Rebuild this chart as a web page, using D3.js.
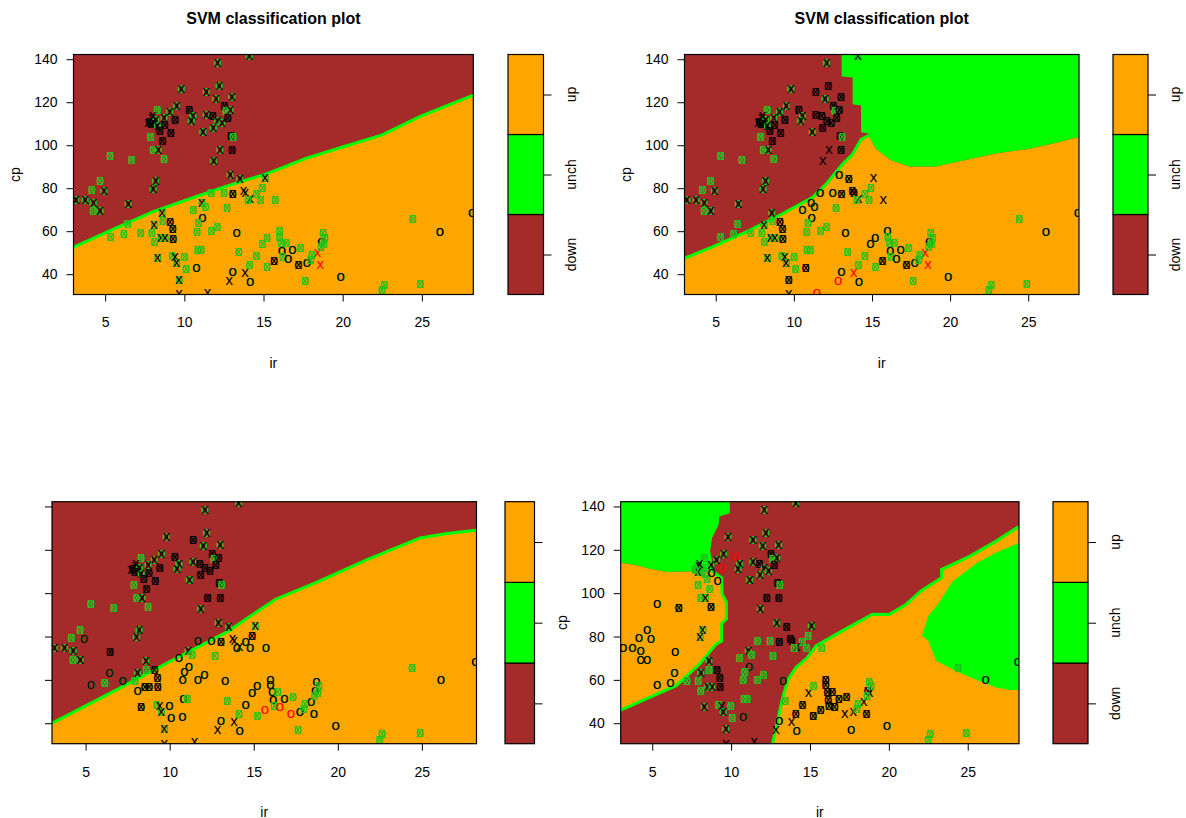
<!DOCTYPE html>
<html lang="en">
<head>
<meta charset="UTF-8">
<title>SVM classification plot</title>
<script src="https://d3js.org/d3.v7.min.js"></script>
<style>
    body, html { margin: 0; padding: 0; background: #fff; overflow: hidden; }
    svg text { font-family: "Liberation Sans", Arial, sans-serif; fill: #000; }
</style>
</head>
<body>
<div id="chart"></div>
<script>
// classes of the response and axis ticks
var classes = ["down", "unch", "up"];
var irTicks = [5, 10, 15, 20, 25];
var cpTicks = [40, 60, 80, 100, 120, 140];
var irRange = [3.0, 28.25];
var cpRange = [30.55, 142.2];

// observations (ir, cp) - same data in every panel
var irVals = [
    9.81, 11.39, 9.52, 9.08, 8.30, 10.30, 10.55, 10.44, 11.39, 7.80,
    7.95, 8.10, 8.20, 7.90, 8.00, 8.30, 7.70, 8.72, 9.41, 8.45,
    8.76, 9.14, 8.61, 7.88, 11.18, 8.05, 8.36, 8.72, 5.32, 6.68,
    8.19, 8.03, 4.68, 4.16, 4.92, 3.15, 3.74, 4.26, 4.26, 4.68,
    6.45, 8.59, 6.41, 5.32, 6.15, 7.21, 7.92, 8.09, 8.61, 9.10,
    9.27, 8.51, 8.78, 8.09, 9.29, 8.30, 9.21, 9.41, 9.50, 9.98,
    10.09, 10.76, 9.67, 10.82, 11.03, 10.55, 11.14, 10.88, 10.78, 11.10,
    11.31, 9.67, 14.10, 12.10, 12.20, 12.00, 13.01, 12.52, 12.63, 12.90,
    11.79, 12.10, 12.38, 12.73, 11.83, 12.94, 13.09, 12.25, 13.01, 11.85,
    12.90, 13.51, 15.09, 11.68, 12.48, 13.05, 13.74, 13.84, 14.90, 14.52,
    14.16, 14.00, 14.79, 15.72, 12.67, 12.06, 11.68, 13.30, 13.41, 14.90,
    15.20, 15.99, 15.99, 16.10, 16.41, 16.16, 16.20, 16.56, 16.83, 17.31,
    15.67, 14.52, 14.10, 15.20, 13.05, 13.83, 14.16, 12.84, 17.21, 17.74,
    17.95, 18.41, 18.58, 18.73, 18.66, 18.79, 18.03, 17.61, 11.47, 24.40,
    26.14, 28.18, 19.88, 22.61, 22.46, 24.88, 18.85, 18.60
];
var cpVals = [
    126.0, 124.7, 118.2, 115.4, 116.2, 116.6, 113.5, 111.2, 114.3, 111.0,
    112.5, 110.0, 111.8, 109.8, 113.5, 109.0, 110.5, 112.9, 111.7, 106.5,
    109.2, 105.7, 101.8, 103.7, 106.2, 97.7, 97.7, 93.7, 94.8, 93.0,
    83.2, 79.7, 83.2, 79.3, 78.9, 74.6, 74.6, 73.3, 69.4, 69.4,
    72.9, 68.7, 63.2, 57.5, 58.6, 59.3, 59.3, 63.0, 64.8, 64.4,
    61.0, 56.7, 56.7, 55.1, 56.6, 47.6, 48.4, 47.8, 45.0, 47.8,
    42.6, 42.9, 37.2, 51.2, 51.2, 69.9, 66.0, 63.7, 59.8, 73.3,
    71.4, 30.6, 141.5, 138.4, 127.6, 121.6, 122.4, 118.2, 115.9, 116.2,
    113.6, 111.5, 110.4, 112.9, 108.2, 104.5, 103.7, 97.7, 97.7, 92.5,
    86.3, 84.3, 85.0, 77.8, 77.8, 77.3, 78.8, 77.8, 80.1, 77.3,
    75.0, 74.6, 74.6, 74.6, 70.9, 62.2, 60.1, 59.3, 50.4, 53.9,
    57.0, 60.1, 57.5, 54.6, 54.6, 50.7, 48.1, 47.3, 51.2, 52.0,
    46.1, 48.6, 44.2, 43.4, 41.1, 40.6, 36.4, 36.9, 44.5, 45.3,
    46.5, 50.0, 44.2, 59.0, 55.1, 53.9, 48.9, 36.9, 31.5, 65.7,
    59.8, 68.4, 38.8, 35.2, 32.5, 35.6, 57.0, 52.5
];
// glyph per point in the first model
// G green o+x, M green o + black x, K black o+x, k black o, x black x, r red x, R red o
var sym1 = (
    "MMMMGKMMMK" + "xxMKxMxMKK" + "KKKGMGMGGG" + "MMGGMMMMGM" +
    "MMGGGGGMGK" + "KMMGKMGxMG" + "GkMGGGkGGM" + "GxMMMMMKGM" +
    "KMMKMKGMKM" + "MMMGGKxxGG" + "xGGGGGGkGG" + "GGGGGkGkkG" +
    "KGGGkxkxKk" + "GrrGkGGGxG" + "kkkGGGGG"
).split("");

// glyph changes in the other models: [ir, cp, glyph]
var fix2 = [
    [12.2, 127.6, "K"], [11.39, 124.7, "K"], [13.01, 122.4, "K"], [12.52, 118.2, "K"],
    [12.9, 116.2, "K"], [11.39, 114.3, "K"], [11.79, 113.6, "K"], [12.1, 111.5, "K"],
    [12.73, 112.9, "K"], [12.38, 110.4, "K"], [11.83, 108.2, "K"], [13.01, 97.7, "K"],
    [12.25, 97.7, "x"], [11.85, 92.5, "x"], [12.9, 86.3, "k"], [13.51, 84.3, "K"],
    [15.09, 85.0, "x"], [13.74, 78.8, "K"], [13.84, 77.8, "K"], [14.16, 75.0, "x"],
    [15.72, 74.6, "x"], [11.68, 77.8, "k"], [12.48, 77.8, "k"], [11.1, 73.3, "k"],
    [11.31, 71.4, "k"], [10.55, 69.9, "k"], [9.67, 37.2, "K"], [10.76, 42.9, "K"],
    [9.29, 56.6, "K"], [9.1, 64.4, "K"], [9.27, 61.0, "K"], [13.3, 59.3, "k"],
    [14.16, 36.4, "k"], [12.84, 36.9, "R"], [13.83, 40.6, "r"], [11.47, 31.5, "R"],
    [10.3, 116.6, "K"], [9.41, 111.7, "K"], [15.2, 57.0, "k"], [15.99, 60.1, "k"],
    [16.16, 50.7, "k"], [14.9, 53.9, "k"]
];
var fix3 = [
    [11.39, 124.7, "K"], [12.52, 118.2, "K"], [12.9, 116.2, "K"], [12.73, 112.9, "K"],
    [12.38, 110.4, "K"], [11.79, 113.6, "K"], [12.1, 111.5, "K"], [11.83, 108.2, "K"],
    [12.94, 104.5, "K"], [12.25, 97.7, "K"], [13.01, 97.7, "K"], [10.3, 116.6, "K"],
    [11.68, 77.8, "k"], [12.48, 77.8, "k"], [10.55, 69.9, "k"], [10.88, 63.7, "k"],
    [10.78, 59.8, "k"], [11.68, 60.1, "k"], [12.06, 62.2, "k"], [14.0, 74.6, "k"],
    [14.52, 77.3, "k"], [14.79, 74.6, "k"], [15.72, 74.6, "k"], [14.9, 80.1, "K"],
    [13.74, 78.8, "x"], [13.84, 77.8, "x"], [15.67, 46.1, "R"], [16.56, 47.3, "R"],
    [17.21, 44.5, "R"], [8.09, 55.1, "k"], [8.51, 56.7, "K"], [8.78, 56.7, "K"],
    [9.1, 64.4, "K"], [9.27, 61.0, "K"], [9.29, 56.6, "K"], [8.3, 47.6, "K"],
    [10.82, 51.2, "k"], [9.98, 47.8, "k"], [10.09, 42.6, "k"], [13.05, 41.1, "k"],
    [14.16, 36.4, "k"], [14.52, 48.6, "k"], [15.2, 57.0, "k"], [14.9, 53.9, "k"],
    [15.99, 60.1, "k"], [15.99, 57.5, "k"], [16.1, 54.6, "k"], [18.73, 59.0, "k"],
    [18.66, 55.1, "k"], [18.58, 44.2, "k"], [18.41, 50.0, "k"], [6.41, 63.2, "k"],
    [7.21, 59.3, "k"], [6.45, 72.9, "K"], [4.92, 78.9, "k"], [5.32, 57.5, "k"]
];
var fix4 = [
    [7.8, 111.0, "G"], [7.95, 112.5, "M"], [8.1, 110.0, "G"], [8.2, 111.8, "G"],
    [7.9, 109.8, "M"], [8.3, 109.0, "G"], [7.7, 110.5, "G"], [10.3, 116.6, "R"],
    [9.41, 111.7, "R"], [8.45, 106.5, "G"], [8.76, 109.2, "k"], [9.14, 105.7, "k"],
    [8.61, 101.8, "G"], [5.32, 94.8, "k"], [6.68, 93.0, "K"], [8.72, 93.7, "K"],
    [4.68, 83.2, "k"], [4.16, 79.3, "k"], [4.92, 78.9, "k"], [3.15, 74.6, "k"],
    [3.74, 74.6, "k"], [4.26, 73.3, "k"], [4.26, 69.4, "k"], [4.68, 69.4, "k"],
    [6.45, 72.9, "k"], [6.41, 63.2, "k"], [5.32, 57.5, "k"], [6.15, 58.6, "k"],
    [15.99, 60.1, "K"], [15.99, 57.5, "K"], [16.1, 54.6, "K"], [16.41, 54.6, "K"],
    [16.16, 50.7, "K"], [16.2, 48.1, "K"], [16.56, 47.3, "K"], [16.83, 51.2, "K"],
    [15.67, 46.1, "K"], [14.52, 48.6, "K"], [14.1, 44.2, "K"], [15.2, 43.4, "K"],
    [17.21, 44.5, "x"], [17.74, 45.3, "x"], [18.41, 50.0, "x"], [18.58, 44.2, "K"],
    [18.66, 55.1, "K"], [18.79, 53.9, "x"], [17.31, 52.0, "K"], [14.9, 53.9, "x"],
    [13.05, 41.1, "k"], [17.61, 36.9, "k"], [12.52, 118.2, "K"], [11.79, 113.6, "K"],
    [12.94, 104.5, "K"], [12.25, 97.7, "K"], [13.51, 84.3, "K"], [13.74, 78.8, "K"],
    [13.84, 77.8, "K"], [12.73, 112.9, "K"]
];

// decision boundaries, in (ir, cp)
var edge1 = [[3.0, 52.6], [5.6, 61.2], [8.0, 69.0], [10.4, 75.2], [12.85, 81.4], [15.27, 86.9],
    [17.68, 93.9], [20.1, 99.4], [22.5, 104.8], [24.9, 113.4], [28.25, 123.3]];
var edge2 = [[3.0, 47.4], [4.79, 52.7], [6.93, 59.6], [9.06, 67.3], [11.2, 75.8], [12.06, 81.9],
    [13.12, 91.2], [13.76, 95.8], [14.3, 102.7], [14.77, 104.5]];
var unch2Side = [[13.06, 142.2], [13.06, 132.0], [13.76, 131.5], [13.76, 119.0], [14.3, 118.5],
    [14.3, 106.0], [14.77, 105.5], [14.77, 104.5]];
var unch2Low = [[15.25, 98.4], [16.2, 93.1], [17.4, 90.1], [19.1, 90.1], [20.0, 91.6], [21.5, 93.9],
    [22.9, 96.2], [25.1, 98.4], [26.5, 100.7], [28.25, 103.8]];
var edge3 = [[3.0, 40.0], [6.75, 55.0], [10.1, 68.8], [13.5, 82.5], [15.1, 91.0], [16.3, 97.2],
    [18.8, 105.2], [21.75, 115.5], [24.9, 125.5], [26.5, 127.5], [28.25, 129.0]];
var unch4Left = [[3.0, 142.2], [9.92, 142.2], [9.92, 136.9], [9.26, 135.4], [9.21, 131.6], [8.79, 125.5],
    [8.67, 119.3], [8.79, 114.7], [8.67, 110.9], [7.6, 110.1], [5.95, 109.8], [4.76, 111.4],
    [4.05, 112.9], [3.0, 114.0]];
var edge4Left = [[8.67, 110.9], [9.4, 107.0], [9.43, 99.5], [9.7, 96.0], [9.7, 88.0], [9.4, 86.0],
    [9.4, 78.0], [9.05, 76.5], [8.0, 67.3], [6.52, 57.3], [4.83, 51.9], [3.0, 46.0]];
var edge4Right = [[12.6, 30.55], [12.64, 31.1], [12.85, 38.0], [13.27, 51.9], [13.6, 60.0], [14.11, 65.7],
    [14.85, 70.4], [15.38, 75.7], [17.07, 82.7], [18.97, 90.3], [20.03, 90.2], [21.09, 94.8],
    [22.04, 101.0], [23.34, 107.1], [23.34, 110.9], [25.12, 117.0], [26.78, 123.9], [28.25, 130.8]];
var unch4Right = [[28.25, 123.2], [26.78, 118.6], [25.6, 114.0], [24.05, 105.5], [23.1, 94.8],
    [22.5, 89.5], [22.1, 80.3], [22.5, 78.0], [23.0, 68.8], [24.2, 64.2], [25.4, 60.4],
    [26.8, 56.5], [27.7, 55.3], [28.25, 55.3]];

var classColor = { down: "#A52A2A", unch: "#00FF00", up: "#FFA500" };
var ptColor = { g: "#1DC41D", k: "#000000", r: "#FF0000" };
var glyphs = {
    G: [["o", "g"], ["x", "g"]],
    M: [["o", "g"], ["x", "k"]],
    K: [["o", "k"], ["x", "k"]],
    k: [["o", "g"], ["o", "k"]],
    x: [["x", "k"]],
    r: [["x", "r"]],
    R: [["o", "r"]]
};

var lo = [irRange[0], cpRange[0]], hi = [irRange[1], cpRange[1]];

function symbolsFor(fixes) {
    var s = sym1.slice();
    fixes.forEach(function(f) {
        var best = 0, bd = Infinity;
        irVals.forEach(function(v, i) {
            var d = Math.pow(v - f[0], 2) + Math.pow((cpVals[i] - f[1]) / 4, 2);
            if (d < bd) { bd = d; best = i; }
        });
        s[best] = f[2];
    });
    return s;
}

var panels = [
    { id: 1, left: 73.5, right: 473.3, top: 54.5, bottom: 294.5, keyL: 508, keyR: 543.5,
      title: true, yLab: true, keyLab: true, sym: sym1,
      regions: [{ cls: "up", pts: edge1.concat([[hi[0], lo[1]], [lo[0], lo[1]]]) }],
      edges: [edge1] },
    { id: 2, left: 684.5, right: 1079, top: 54.5, bottom: 294.5, keyL: 1113, keyR: 1148,
      title: true, yLab: true, keyLab: true, sym: symbolsFor(fix2),
      regions: [
          { cls: "up", pts: edge2.concat(unch2Low, [[hi[0], lo[1]], [lo[0], lo[1]]]) },
          { cls: "unch", pts: unch2Side.concat(unch2Low, [[hi[0], hi[1]]]) }
      ],
      edges: [edge2] },
    { id: 3, left: 52, right: 476.5, top: 501.7, bottom: 743.7, keyL: 505, keyR: 534.5,
      title: false, yLab: false, keyLab: false, sym: symbolsFor(fix3),
      regions: [{ cls: "up", pts: edge3.concat([[hi[0], lo[1]], [lo[0], lo[1]]]) }],
      edges: [edge3] },
    { id: 4, left: 620.7, right: 1019, top: 501.7, bottom: 743.7, keyL: 1053, keyR: 1088,
      title: false, yLab: true, keyLab: true, sym: symbolsFor(fix4),
      regions: [
          { cls: "up", pts: unch4Left.slice(8).reverse().concat(edge4Left) },
          { cls: "unch", pts: unch4Left },
          { cls: "up", pts: edge4Right.concat([[hi[0], lo[1]]]) },
          { cls: "unch", pts: unch4Right }
      ],
      edges: [edge4Left, edge4Right] }
];

var svg = d3.select("#chart").append("svg")
    .attr("width", 1186)
    .attr("height", 818);

panels.forEach(function(p) {
    var x = d3.scaleLinear().domain(irRange).range([p.left, p.right]);
    var y = d3.scaleLinear().domain(cpRange).range([p.bottom, p.top]);
    var line = d3.line().x(function(d) { return x(d[0]); }).y(function(d) { return y(d[1]); });
    var cx = (p.left + p.right) / 2;

    svg.append("clipPath").attr("id", "clip" + p.id)
        .append("rect")
        .attr("x", p.left).attr("y", p.top)
        .attr("width", p.right - p.left).attr("height", p.bottom - p.top);

    var plot = svg.append("g").attr("clip-path", "url(#clip" + p.id + ")");

    // background = "down" region
    plot.append("rect")
        .attr("x", p.left).attr("y", p.top)
        .attr("width", p.right - p.left).attr("height", p.bottom - p.top)
        .attr("fill", classColor.down);

    p.regions.forEach(function(r) {
        plot.append("path")
            .attr("d", line(r.pts) + "Z")
            .attr("fill", classColor[r.cls]);
    });

    p.edges.forEach(function(e) {
        plot.append("path")
            .attr("d", line(e))
            .attr("fill", "none")
            .attr("stroke", "#00FF00")
            .attr("stroke-width", 3);
    });

    // points
    irVals.forEach(function(v, i) {
        glyphs[p.sym[i]].forEach(function(gl) {
            plot.append("text")
                .attr("x", x(v))
                .attr("y", y(cpVals[i]))
                .attr("dy", "0.27em")
                .attr("text-anchor", "middle")
                .style("font-size", "15px")
                .style("fill", ptColor[gl[1]])
                .text(gl[0]);
        });
    });

    // box
    svg.append("rect")
        .attr("x", p.left).attr("y", p.top)
        .attr("width", p.right - p.left).attr("height", p.bottom - p.top)
        .attr("fill", "none").attr("stroke", "#000").attr("stroke-width", 1.2);

    // x axis
    var xa = svg.append("g")
        .attr("transform", "translate(0," + p.bottom + ")")
        .call(d3.axisBottom(x).tickValues(irTicks).tickSize(7).tickSizeOuter(0).tickPadding(16));
    xa.select(".domain").remove();
    xa.selectAll("text").style("font-size", "14px").style("font-family", "Liberation Sans, Arial, sans-serif");

    // y axis
    var ya = svg.append("g")
        .attr("transform", "translate(" + p.left + ",0)")
        .call(d3.axisLeft(y).tickValues(cpTicks).tickSize(7).tickSizeOuter(0).tickPadding(9));
    ya.select(".domain").remove();
    ya.selectAll("text").style("font-size", "14px").style("font-family", "Liberation Sans, Arial, sans-serif");
    if (!p.yLab) ya.selectAll("text").remove();

    svg.append("text")
        .attr("x", cx).attr("y", p.bottom + 73)
        .attr("text-anchor", "middle")
        .style("font-size", "14px")
        .text("ir");

    if (p.yLab) {
        svg.append("text")
            .attr("transform", "translate(" + (p.left - 54) + "," + ((p.top + p.bottom) / 2) + ") rotate(-90)")
            .attr("text-anchor", "middle")
            .style("font-size", "14px")
            .text("cp");
    }

    if (p.title) {
        svg.append("text")
            .attr("x", cx).attr("y", 24)
            .attr("text-anchor", "middle")
            .style("font-size", "16px")
            .style("font-weight", "bold")
            .text("SVM classification plot");
    }

    // colour key
    var k = d3.scaleLinear().domain([0, classes.length]).range([p.bottom, p.top]);
    classes.forEach(function(c, i) {
        svg.append("rect")
            .attr("x", p.keyL).attr("y", k(i + 1))
            .attr("width", p.keyR - p.keyL).attr("height", k(i) - k(i + 1))
            .attr("fill", classColor[c])
            .attr("stroke", "#000").attr("stroke-width", 1.2);
    });
    var ka = svg.append("g")
        .attr("transform", "translate(" + p.keyR + ",0)")
        .call(d3.axisRight(k).tickValues(classes.map(function(c, i) { return i + 0.5; })).tickSize(8).tickSizeOuter(0));
    ka.select(".domain").remove();
    ka.selectAll("text").remove();
    if (p.keyLab) {
        classes.forEach(function(c, i) {
            svg.append("text")
                .attr("transform", "translate(" + (p.keyR + 32) + "," + k(i + 0.5) + ") rotate(-90)")
                .attr("text-anchor", "middle")
                .style("font-size", "14px")
                .text(c);
        });
    }
});
</script>
</body>
</html>
